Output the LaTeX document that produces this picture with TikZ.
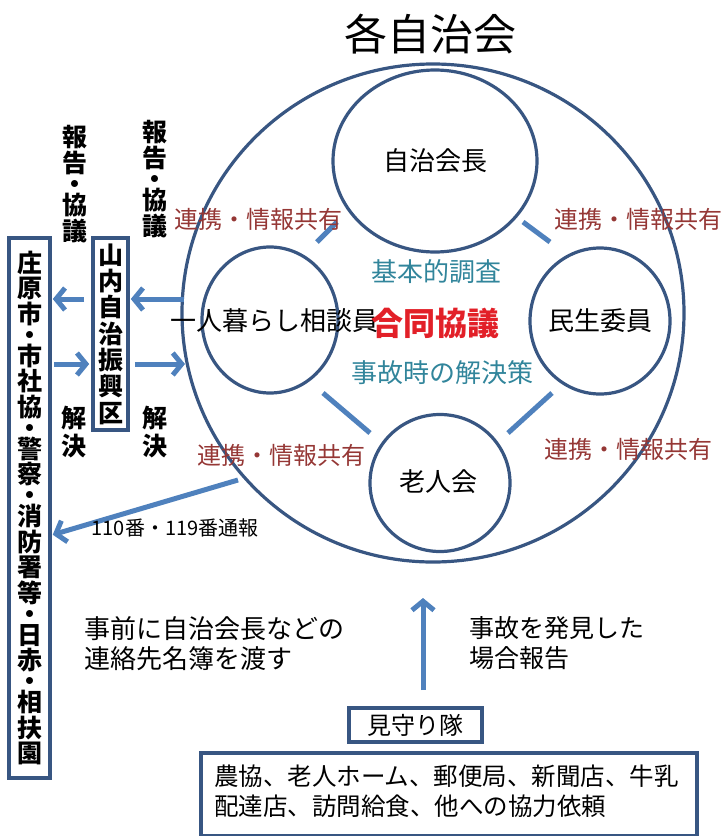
\documentclass[tikz,border=0pt]{standalone}
\usepackage{fontspec}
\setmainfont{Noto Sans CJK JP}
\usetikzlibrary{arrows.meta,shapes.geometric}
\definecolor{circblue}{RGB}{56,86,130}
\definecolor{lineblue}{RGB}{79,129,189}
\definecolor{redtxt}{RGB}{226,32,40}
\definecolor{tealtxt}{RGB}{49,133,155}
\definecolor{browntxt}{RGB}{149,55,53}
\newcommand{\fsz}[2]{\fontsize{#1}{#2}\selectfont}
\begin{document}
\begin{tikzpicture}[x=1pt,y=-1pt,
  ring/.style={draw=circblue, line width=3.2pt, ellipse, inner sep=0pt},
  frame/.style={draw=circblue, line width=3.6pt, rectangle, inner sep=0pt},
  link/.style={draw=lineblue, line width=5pt},
  arr/.style={draw=lineblue, line width=5pt, -{Straight Barb[length=9pt,width=22pt]}},
  share/.style={text=browntxt, font=\fsz{24}{28}, inner sep=0pt},
  note/.style={text=tealtxt, font=\fsz{26}{30}, inner sep=0pt},
  member/.style={font=\fsz{26}{30}, inner sep=0pt},
  vcol/.style={align=center, inner sep=0pt, font=\bfseries\fsz{25}{26}}
]
\useasboundingbox (0,0) rectangle (724,836);

% title
\node[font=\fsz{43}{50}, inner sep=0pt] (title) at (430,34) {各自治会};

% big circle and member circles
\node[ring, minimum width=502pt, minimum height=498pt] (big) at (433,313) {};
\node[ring, minimum width=204pt, minimum height=182pt] (chief) at (435,161) {};
\node[ring, minimum width=136pt, minimum height=146pt] (single) at (270,320) {};
\node[ring, minimum width=140pt, minimum height=146pt] (minsei) at (600,321) {};
\node[ring, minimum width=140pt, minimum height=137pt] (elder) at (440,483) {};

\node[member] (chieft) at (chief.center) {自治会長};
\node[member] (singlet) at (274,321) {一人暮らし相談員};
\node[member] (minseit) at (minsei.center) {民生委員};
\node[member] (eldert) at (438,482) {老人会};

% centre texts
\node[note] (survey) at (436,272) {基本的調査};
\node[text=redtxt, font=\bfseries\fsz{32}{36}, inner sep=0pt] (joint) at (435,323) {合同協議};
\node[note] (solve) at (442,373) {事故時の解決策};

% short links between circles
\coordinate (tl1) at (317,242); \coordinate (tl2) at (337,222);
\coordinate (tr1) at (523,222); \coordinate (tr2) at (550,242);
\coordinate (bl1) at (323,393); \coordinate (bl2) at (370,433);
\coordinate (br1) at (508,433); \coordinate (br2) at (552,393);
\draw[link] (tl1) -- (tl2);
\draw[link] (tr1) -- (tr2);
\draw[link] (bl1) -- (bl2);
\draw[link] (br1) -- (br2);

% sharing labels
\node[share] (s1) at (258,219) {連携・情報共有};
\node[share] (s2) at (638,219) {連携・情報共有};
\node[share] (s3) at (281,455) {連携・情報共有};
\node[share] (s4) at (628,449) {連携・情報共有};

% left boxes
\node[frame, minimum width=35pt, minimum height=192pt, align=center,
      font=\bfseries\fsz{25}{26.3}] (yama) at (110.5,334)
      {山\\内\\自\\治\\振\\興\\区};
\node[frame, minimum width=41pt, minimum height=540pt, align=center,
      font=\bfseries\fsz{25}{25.5}] (shobara) at (29.5,508)
      {庄\\原\\市\\[-4.5pt]・\\[-4.5pt]市\\社\\協\\[-4.5pt]・\\[-4.5pt]警\\察\\[-4.5pt]・\\[-4.5pt]消\\防\\署\\等\\[-4.5pt]・\\[-4.5pt]日\\赤\\[-4.5pt]・\\[-4.5pt]相\\扶\\園};

% vertical labels
\node[vcol] (rep1) at (75,184) {報\\告\\[-5pt]・\\[-5pt]協\\議};
\node[vcol] (rep2) at (155,179) {報\\告\\[-5pt]・\\[-5pt]協\\議};
\node[vcol, font=\bfseries\fsz{25}{28}] (sol1) at (74,432) {解\\決};
\node[vcol, font=\bfseries\fsz{25}{28}] (sol2) at (155,432) {解\\決};

% arrows
\coordinate (c1) at (184,299);
\coordinate (c2) at (185,364);
\draw[arr, shorten >=1pt] (c1) -- (yama.east |- c1);
\draw[arr, shorten <=7pt, shorten >=1pt] (yama.west |- c1) -- (shobara.east |- c1);
\draw[arr, shorten <=2pt, shorten >=2pt] (shobara.east |- c2) -- (yama.west |- c2);
\draw[arr, shorten <=5pt] (yama.east |- c2) -- (c2);

\coordinate (c3) at (238,480);
\coordinate (y535) at (0,535);
\draw[arr, shorten >=1pt] (c3) -- (shobara.east |- y535);
\node[font=\fsz{20}{24}, inner sep=0pt] (call) at (175,528) {110番・119番通報};

% bottom part
\node[anchor=west, align=left, font=\fsz{26}{30}, inner sep=0pt] (pre) at (84,644)
  {事前に自治会長などの\\連絡先名簿を渡す};
\node[anchor=west, align=left, font=\fsz{25}{30}, inner sep=0pt] (found) at (469,643)
  {事故を発見した\\場合報告};

\node[frame, minimum width=133pt, minimum height=34pt, font=\fsz{24}{28}] (mimamori) at (415.5,725) {見守り隊};
\coordinate (alert) at (423,598);
\draw[arr, shorten <=16pt] (mimamori.north -| alert) -- (alert);

\node[frame, minimum width=496pt, minimum height=83pt] (coop) at (449,794.5) {};
\node[anchor=west, align=left, font=\fsz{24.5}{30}, inner sep=0pt] (coopt) at (214,791)
  {農協、老人ホーム、郵便局、新聞店、牛乳\\配達店、訪問給食、他への協力依頼};
\end{tikzpicture}
\end{document}
